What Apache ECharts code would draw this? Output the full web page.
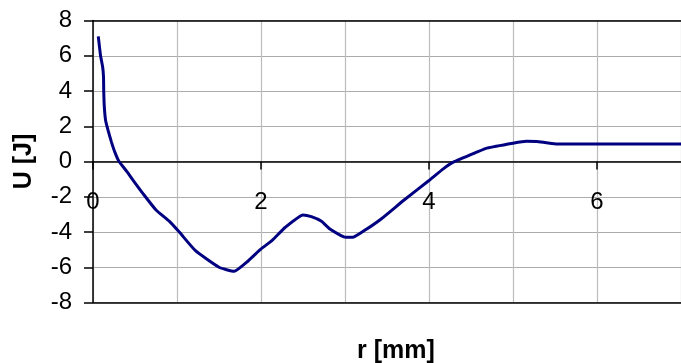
<!DOCTYPE html>
<html><head><meta charset="utf-8">
<script src="https://cdn.jsdelivr.net/npm/echarts@6/dist/echarts.min.js"></script>
<style>html,body{margin:0;padding:0;background:#fff}#c{width:681px;height:363px}</style>
</head><body><div id="c"></div>
<script>
const rValues = [0.063, 0.09, 0.115, 0.125, 0.128, 0.135, 0.15, 0.18, 0.22, 0.26, 0.31, 0.40, 0.48, 0.60, 0.75, 0.91, 1.03, 1.22, 1.5, 1.68, 1.85, 2.0, 2.13, 2.29, 2.5, 2.6, 2.72, 2.82, 3.01, 3.09, 3.23, 3.43, 3.70, 4.0, 4.17, 4.29, 4.57, 4.69, 5.0, 5.16, 5.28, 5.51, 6.0, 7.0];
const uValues = [7.1, 6.0, 5.36, 4.8, 3.94, 3.08, 2.33, 1.76, 1.1, 0.53, 0, -0.55, -1.08, -1.85, -2.75, -3.4, -4.02, -5.06, -6.0, -6.23, -5.63, -4.96, -4.49, -3.73, -3.03, -3.13, -3.39, -3.83, -4.3, -4.3, -3.92, -3.26, -2.2, -1.08, -0.42, -0.04, 0.53, 0.76, 1.04, 1.15, 1.14, 1.0, 1.0, 1.0];
const xTitle = 'r [mm]';
const yTitle = 'U [J]';
const font = 'Liberation Sans';

const chart = echarts.init(document.getElementById('c'));
chart.setOption({
  animation: false,
  title: {text: xTitle, left: 352, top: 334, textStyle: {fontFamily: font, fontSize: 25, fontWeight: 'bold', color: '#000'}},
  grid: {left: 93, right: -5, top: 20.5, bottom: 60.5},
  xAxis: [{
    type: 'value', min: 0, max: 7, interval: 2, position: 'bottom', offset: -141,
    axisLine: {onZero: false, lineStyle: {color: '#000', width: 1.5}},
    axisTick: {length: 8, lineStyle: {color: '#000', width: 1.5}},
    axisLabel: {margin: 29, fontFamily: font, fontSize: 24, color: '#000', showMaxLabel: false},
    splitLine: {show: false}
  }, {
    type: 'value', min: 0, max: 7, interval: 1, position: 'top',
    axisLine: {show: true, onZero: false, lineStyle: {color: '#000', width: 1.5}},
    axisTick: {show: false}, axisLabel: {show: false},
    splitLine: {show: true, lineStyle: {color: '#bcbcbc', width: 1.2}}
  }],
  yAxis: {
    type: 'value', min: -8, max: 8, interval: 2,
    name: yTitle, nameLocation: 'middle', nameGap: 56,
    nameTextStyle: {fontFamily: font, fontSize: 25, fontWeight: 'bold', color: '#000'},
    axisLine: {show: true, onZero: false, lineStyle: {color: '#000', width: 1.5}},
    axisTick: {show: true, length: 9, lineStyle: {color: '#000', width: 1.5}},
    axisLabel: {margin: 21, fontFamily: font, fontSize: 24, color: '#000'},
    splitLine: {show: true, lineStyle: {color: '#acacac', width: 1.2}}
  },
  series: [{
    type: 'line', xAxisIndex: 0,
    data: rValues.map((r, i) => [r, uValues[i]]),
    showSymbol: false, smooth: 0.15,
    lineStyle: {color: '#000080', width: 3},
    markLine: {
      silent: true, symbol: 'none', label: {show: false},
      lineStyle: {color: '#000', type: 'solid', width: 1.5},
      data: [{yAxis: -8}]
    },
    z: 3
  }]
});
</script></body></html>
